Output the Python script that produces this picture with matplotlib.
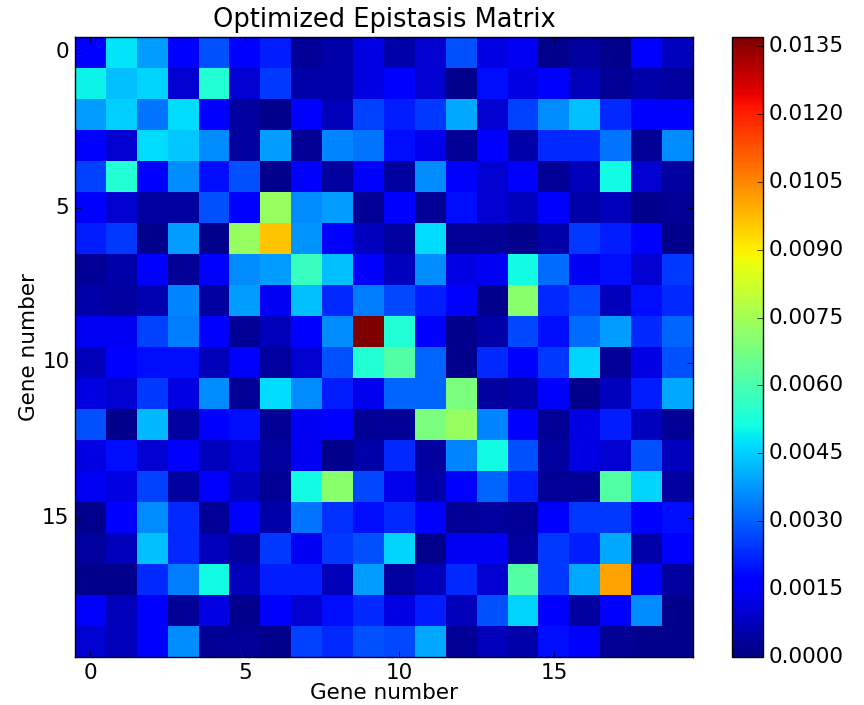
import numpy as np
import matplotlib
matplotlib.use("Agg")
import matplotlib.pyplot as plt

# epistasis values, in units of 1e-4
epistasis = [
    [16, 48, 38, 17, 28, 16, 21, 3, 5, 12, 5, 10, 28, 12, 14, 2, 4, 2, 16, 8],
    [50, 43, 46, 10, 54, 10, 25, 5, 5, 12, 16, 10, 2, 19, 12, 15, 7, 3, 5, 4],
    [38, 45, 33, 47, 16, 4, 2, 16, 7, 26, 21, 25, 40, 10, 26, 36, 43, 23, 16, 16],
    [16, 10, 47, 44, 36, 4, 38, 3, 35, 33, 19, 13, 3, 16, 5, 23, 23, 33, 3, 36],
    [26, 54, 16, 36, 19, 28, 2, 15, 4, 17, 4, 36, 16, 10, 16, 3, 7, 51, 10, 4],
    [16, 10, 4, 4, 28, 16, 73, 36, 38, 3, 16, 3, 19, 10, 8, 16, 5, 7, 2, 3],
    [21, 25, 2, 38, 2, 73, 96, 37, 15, 8, 4, 47, 3, 3, 2, 5, 25, 21, 16, 2],
    [3, 5, 16, 3, 16, 36, 38, 57, 43, 16, 8, 36, 12, 14, 51, 32, 14, 19, 10, 25],
    [5, 4, 6, 35, 4, 38, 14, 43, 23, 34, 27, 21, 16, 2, 71, 23, 27, 7, 19, 23],
    [14, 14, 26, 34, 17, 3, 7, 15, 36, 137, 54, 15, 2, 5, 27, 19, 32, 38, 23, 31],
    [7, 16, 19, 19, 7, 16, 4, 10, 28, 54, 62, 31, 2, 23, 16, 25, 46, 3, 12, 28],
    [12, 10, 25, 12, 36, 3, 47, 36, 21, 13, 31, 31, 68, 4, 5, 16, 2, 8, 21, 40],
    [28, 2, 42, 4, 16, 19, 3, 14, 16, 3, 3, 68, 73, 35, 16, 3, 12, 21, 8, 3],
    [12, 19, 10, 15, 8, 11, 4, 14, 2, 5, 23, 4, 35, 51, 28, 4, 12, 10, 28, 8],
    [14, 12, 26, 4, 17, 8, 3, 51, 71, 27, 13, 5, 16, 31, 21, 3, 3, 62, 46, 4],
    [2, 16, 36, 23, 3, 16, 5, 33, 24, 19, 23, 16, 3, 4, 3, 16, 25, 25, 16, 19],
    [4, 7, 43, 23, 7, 4, 25, 14, 25, 28, 46, 2, 14, 14, 4, 25, 21, 40, 5, 16],
    [2, 2, 23, 34, 51, 7, 21, 21, 7, 38, 4, 7, 23, 10, 62, 25, 40, 101, 16, 4],
    [16, 7, 16, 3, 12, 2, 16, 10, 19, 23, 12, 21, 7, 28, 46, 16, 4, 16, 36, 2],
    [10, 7, 16, 36, 3, 3, 2, 26, 23, 28, 27, 40, 3, 7, 5, 19, 16, 3, 2, 2],
]
gene_ticks = [0, 5, 10, 15]
cbar_ticks = [0.0, 0.0015, 0.003, 0.0045, 0.006, 0.0075, 0.009, 0.0105, 0.012, 0.0135]

M = np.array(epistasis) * 1e-4

plt.style.use("classic")
fig = plt.figure(figsize=(8.64, 7.05), dpi=100)
fig.patch.set_facecolor("white")
ax = fig.add_axes([75 / 864, 1 - 657 / 705, 618 / 864, 620 / 705])
cax = fig.add_axes([732 / 864, 1 - 657 / 705, 31 / 864, 620 / 705])

im = ax.imshow(M, cmap="jet", interpolation="nearest", vmin=0, vmax=M.max(), aspect="auto")
ax.set_xticks(gene_ticks)
ax.set_yticks(gene_ticks)
ax.tick_params(labelsize=15.5)
ax.set_xlabel("Gene number", fontsize=15.5, labelpad=0)
ax.set_ylabel("Gene number", fontsize=15.5, labelpad=2)
ax.set_title("Optimized Epistasis Matrix", fontsize=18.5, y=1.005)

cb = fig.colorbar(im, cax=cax, ticks=cbar_ticks)
cb.ax.set_yticklabels(["%.4f" % t for t in cbar_ticks])
cb.ax.tick_params(labelsize=15.5)

fig.savefig("out.png", dpi=100, facecolor="white")
